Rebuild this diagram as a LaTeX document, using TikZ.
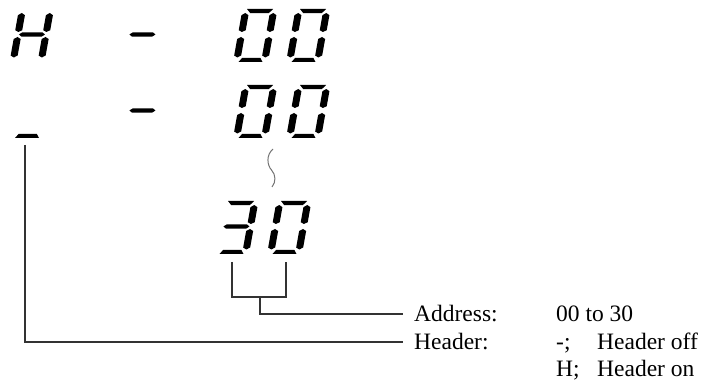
\documentclass[tikz,border=0pt]{standalone}
\usepackage{fontspec}
\setmainfont{Liberation Serif}
\newcommand\SgA{\fill (4.5,53)--(30.5,53)--(27,48.8)--(8.5,48.8)--cycle;}
\newcommand\SgD{\fill (5.5,0)--(29.5,0)--(26.5,4.2)--(8.5,4.2)--cycle;}
\newcommand\SgG{\fill (4.5,27.5)--(7.5,29.7)--(27.5,29.7)--(30.5,27.5)--(27.5,25.3)--(7.5,25.3)--cycle;}
\newcommand\SgF{\fill (3.5,30)--(7,31.8)--(7,46.8)--(3.5,49)--(0,46.8)--(0,31.8)--cycle;}
\newcommand\SgE{\fill (3.5,4.5)--(7,6.5)--(7,23)--(3.5,25)--(0,23)--(0,6.5)--cycle;}
\newcommand\SgB{\begin{scope}[xshift=28]\SgF\end{scope}}
\newcommand\SgC{\begin{scope}[xshift=28]\SgE\end{scope}}
\newcommand\digitat[3]{\begin{scope}[shift={(#1,#2)},xslant=0.18]#3\end{scope}}
\begin{document}
\begin{tikzpicture}[x=1pt,y=1pt,
  conn/.style={draw=black!80,line width=1.3pt},
  wave/.style={draw=black!55,line width=1pt},
  lbl/.style={font=\fontsize{23.5}{28}\selectfont,inner sep=0pt,anchor=base west}]
\useasboundingbox (0,0) rectangle (710,385);
% row 1: H - 00
\digitat{9.5}{323}{\SgB\SgC\SgE\SgF\SgG}
\digitat{120}{323}{\SgG}
\digitat{233}{323}{\SgA\SgB\SgC\SgD\SgE\SgF}
\digitat{286}{323}{\SgA\SgB\SgC\SgD\SgE\SgF}
% row 2: _ - 00
\digitat{9.5}{247}{\SgD}
\digitat{120}{247}{\SgG}
\digitat{233}{247}{\SgA\SgB\SgC\SgD\SgE\SgF}
\digitat{286}{247}{\SgA\SgB\SgC\SgD\SgE\SgF}
% wave
\draw[wave] (273,236) .. controls (266,230) and (267,220) .. (271.5,215) .. controls (276,210) and (276,203) .. (272,198);
% row 3: 30
\digitat{214}{131}{\SgA\SgB\SgC\SgD\SgG}
\digitat{267}{131}{\SgA\SgB\SgC\SgD\SgE\SgF}
% connector coordinates
\coordinate (brL) at (232,123);
\coordinate (brR) at (286,123);
\coordinate (brM) at (260,88);
\coordinate (addrEnd) at (403,71);
\coordinate (hdrTop) at (25,240);
\coordinate (hdrEnd) at (403,43);
\draw[conn] (brL) |- (brM) -| (brR);
\draw[conn] (brM) |- (addrEnd);
\draw[conn] (hdrTop) |- (hdrEnd);
% labels
\node[lbl] (addr) at (414,63.5) {Address:};
\node[lbl] (addrv) at (556,63.5) {00 to 30};
\node[lbl] (hdr) at (414,35.5) {Header:};
\node[lbl] (hoffk) at (556,35.5) {-;};
\node[lbl] (hoff) at (597,35.5) {Header off};
\node[lbl] (honk) at (556,8) {H;};
\node[lbl] (hon) at (597,8) {Header on};
\end{tikzpicture}
\end{document}
